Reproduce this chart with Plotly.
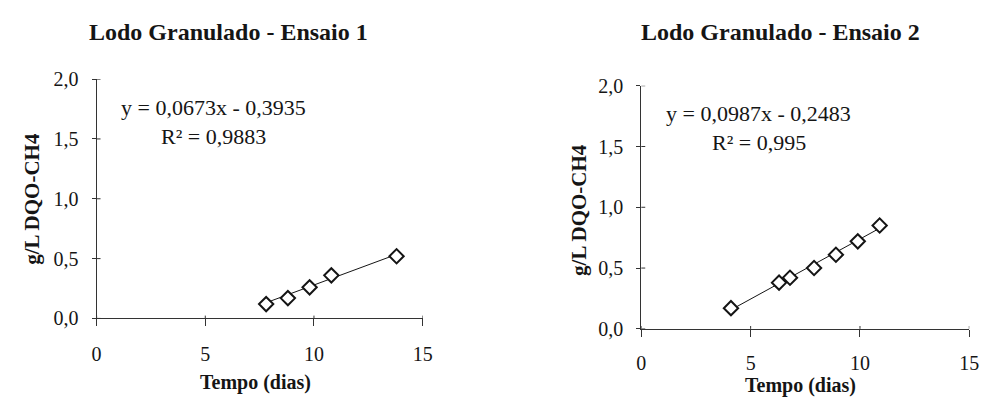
import plotly.graph_objects as go

# ---- data ----
x1 = [7.8, 8.8, 9.8, 10.8, 13.8]
y1 = [0.12, 0.17, 0.26, 0.36, 0.52]
slope1, icpt1 = 0.0673, -0.3935
eq1 = "y = 0,0673x - 0,3935"
r1 = "R² = 0,9883"

x2 = [4.1, 6.3, 6.8, 7.9, 8.9, 9.9, 10.9]
y2 = [0.17, 0.38, 0.42, 0.50, 0.61, 0.72, 0.85]
slope2, icpt2 = 0.0987, -0.2483
eq2 = "y = 0,0987x - 0,2483"
r2 = "R² = 0,995"

titles = ["Lodo Granulado - Ensaio 1", "Lodo Granulado - Ensaio 2"]
xtitle = "Tempo (dias)"
ytitle = "g/L DQO-CH4"
xticks = [0, 5, 10, 15]
yticks = [0.0, 0.5, 1.0, 1.5, 2.0]

W, H = 999, 407
FONT = "Liberation Serif, Times New Roman, serif"
INK = "#151515"
AX = "#333333"

fig = go.Figure()

def trend(xs, m, b):
    xe = [min(xs), max(xs)]
    return xe, [m * v + b for v in xe]

for i, (xs, ys, m, b) in enumerate([(x1, y1, slope1, icpt1), (x2, y2, slope2, icpt2)]):
    xa = "x" if i == 0 else "x2"
    ya = "y" if i == 0 else "y2"
    tx, ty = trend(xs, m, b)
    fig.add_trace(go.Scatter(x=tx, y=ty, mode="lines", line=dict(color=INK, width=1),
                             xaxis=xa, yaxis=ya, showlegend=False, hoverinfo="skip"))
    fig.add_trace(go.Scatter(x=xs, y=ys, mode="markers",
                             marker=dict(symbol="diamond", size=11, color="white",
                                         line=dict(color=INK, width=2)),
                             xaxis=xa, yaxis=ya, showlegend=False))

# plot-area pixel boxes (left, right, top, bottom)
boxes = [(93, 424, 72, 325), (646, 979, 79, 336)]
xstand = [11, 9]

axis_common = dict(showline=True, linecolor=AX, linewidth=1, showgrid=False,
                   zeroline=False, ticks="outside", tickcolor=AX,
                   tickfont=dict(family=FONT, size=20, color=INK))

layout = dict(width=W, height=H, margin=dict(l=0, r=0, t=0, b=0),
              paper_bgcolor="white", plot_bgcolor="white", separators=",.",
              font=dict(family=FONT, color=INK), showlegend=False)

shapes = []
annotations = []
for i, (l, r, t, bt) in enumerate(boxes):
    sfx = "" if i == 0 else "2"
    xd = [l / W, r / W]
    yd = [(H - bt) / H, (H - t) / H]
    layout["xaxis" + sfx] = dict(axis_common, domain=xd, range=[0, 15], tickvals=xticks,
                                 ticklen=7, ticklabelstandoff=xstand[i],
                                 anchor="y" + sfx)
    layout["yaxis" + sfx] = dict(axis_common, domain=yd, range=[0, 2], tickvals=yticks,
                                 tickformat=".1f", ticklen=4, ticklabelstandoff=9,
                                 anchor="x" + sfx)
    pw, ph = r - l, bt - t
    # inner halves of the crossing tick marks
    for v in xticks:
        shapes.append(dict(type="line", xref="x" + sfx, yref="y" + sfx + " domain",
                           x0=v, x1=v, y0=0, y1=3 / ph, line=dict(color=AX, width=1)))
    for v in yticks:
        shapes.append(dict(type="line", xref="x" + sfx + " domain", yref="y" + sfx,
                           x0=0, x1=4 / pw, y0=v, y1=v, line=dict(color=AX, width=1)))

# titles and texts (pixel positions -> paper)
def P(px, py):
    return px / W, (H - py) / H

texts = [
    (titles[0], 227, 22, 24, True, 0),
    (titles[1], 787, 22, 24, True, 0),
    (xtitle, 254, 393, 20, True, 0),
    (xtitle, 808, 396, 20, True, 0),
    (ytitle, 28, 199, 21, True, -90),
    (ytitle, 582, 210, 21, True, -90),
    (eq1, 212, 102, 22, False, 0),
    (r1, 212, 133, 22, False, 0),
    (eq2, 765, 108, 22, False, 0),
    (r2, 766, 139, 22, False, 0),
]
for txt, px, py, sz, bold, ang in texts:
    ax, ay = P(px, py)
    annotations.append(dict(text="<b>%s</b>" % txt if bold else txt, x=ax, y=ay,
                            xref="paper", yref="paper", xanchor="center", yanchor="middle",
                            showarrow=False, textangle=ang,
                            font=dict(family=FONT, size=sz, color=INK)))

layout["shapes"] = shapes
layout["annotations"] = annotations
fig.update_layout(**layout)
fig.write_html("out.html")
